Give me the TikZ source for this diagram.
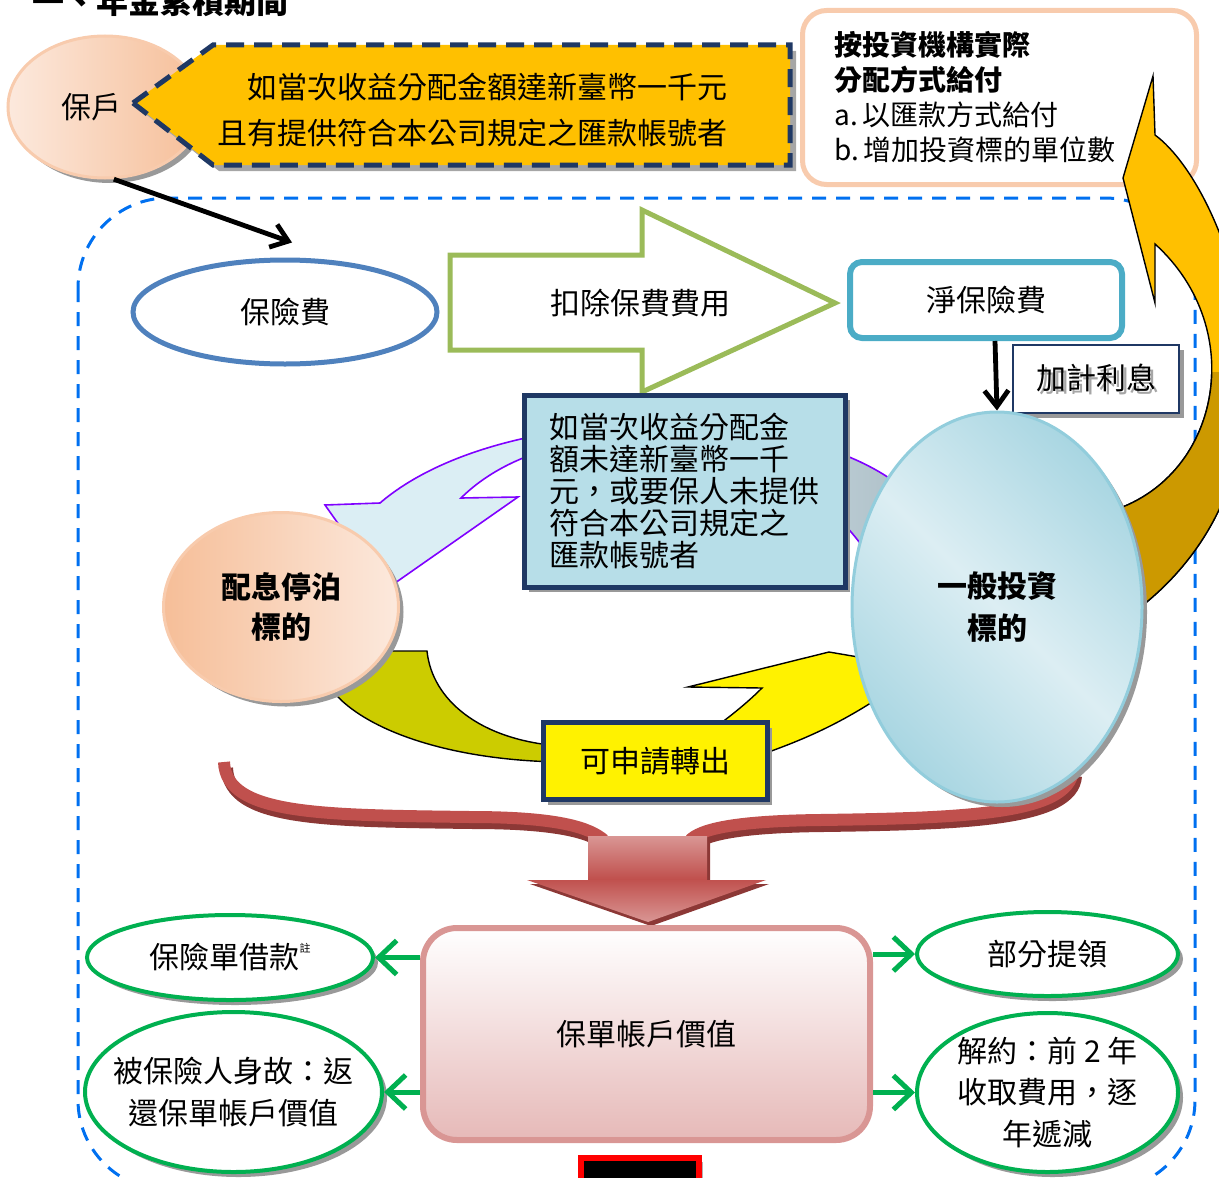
\documentclass[tikz,border=0pt]{standalone}
\usepackage{fontspec}
\setmainfont{Noto Sans CJK TC}
\usetikzlibrary{shapes.geometric,arrows.meta,shadows,positioning}

\definecolor{goldarrow}{HTML}{FFC000}
\definecolor{goldshade}{HTML}{CC9900}
\definecolor{navyline}{HTML}{1F3864}
\definecolor{frameblue}{HTML}{0070F0}
\definecolor{peachline}{HTML}{F8CBAD}
\definecolor{peachlight}{HTML}{FCE9DD}
\definecolor{peachdark}{HTML}{F6BE98}
\definecolor{premblue}{HTML}{4F81BD}
\definecolor{feegreen}{HTML}{9BBB59}
\definecolor{netcyan}{HTML}{4BACC6}
\definecolor{boxblue}{HTML}{B7DEE8}
\definecolor{invlight}{HTML}{DCEEF3}
\definecolor{invdark}{HTML}{A9D6E2}
\definecolor{invline}{HTML}{92CDDC}
\definecolor{loopfill}{HTML}{DBEEF4}
\definecolor{loopgrey}{HTML}{AFC0C8}
\definecolor{loopline}{HTML}{7F00FF}
\definecolor{oliveband}{HTML}{CCCC00}
\definecolor{bracered}{HTML}{C0504D}
\definecolor{bracedark}{HTML}{8C3836}
\definecolor{accline}{HTML}{D99694}
\definecolor{accfill}{HTML}{E6B9B8}
\definecolor{outgreen}{HTML}{00B050}

% golden return arrow on the right
\newcommand{\goldpath}{(1153,76) -- (1155,135) .. controls (1230,190) and (1330,470) .. (1130,615)
  -- (1108,512) .. controls (1220,480) and (1250,330) .. (1155,244) -- (1155,303) -- (1123,178) -- cycle}

\begin{document}
\begin{tikzpicture}[x=0.5pt, y=-0.5pt,
    every node/.style={font=\fontsize{15pt}{18pt}\selectfont},
    shadowed/.style={drop shadow={shadow xshift=2.5pt, shadow yshift=-2.5pt, fill=black!40, opacity=1}},
    bubble/.style={ellipse, draw=peachline, line width=1.5pt, shadowed},
    plainbox/.style={rectangle, draw=navyline, line width=2.5pt, shadowed},
    outcome/.style={ellipse, draw=outgreen, line width=2pt, fill=white, inner sep=0pt, align=center, shadowed},
    flow/.style={-{Straight Barb[length=8pt, width=12pt]}, line width=2.4pt, black},
    outflow/.style={-{Straight Barb[length=9pt, width=17pt]}, line width=2.5pt, outgreen}
]
\useasboundingbox (0,0) rectangle (1219,1177);

% Cadre
\draw[frameblue, line width=1.5pt, dash pattern=on 7pt off 5pt, rounded corners=45pt] (78,198) rectangle (1195,1190);

\node[anchor=base west, font=\fontsize{16pt}{16pt}\selectfont\bfseries] (title) at (25,14) {一、年金累積期間};

% Haut
\node[bubble, left color=peachlight, right color=peachdark, minimum width=97pt, minimum height=71pt] (hu) at (105,107) {保戶\kern14pt};
\draw[navyline, line width=2.5pt, dash pattern=on 9pt off 5pt, fill=goldarrow,
  drop shadow={shadow xshift=3pt, shadow yshift=-3pt, fill=black!35, opacity=1}]
  (133,103) -- (213,45) -- (790,45) -- (790,165) -- (213,165) -- cycle;
\node[anchor=east, align=right, font=\fontsize{15pt}{23pt}\selectfont] (paycond) at (735,110) {如當次收益分配金額達新臺幣一千元\\且有提供符合本公司規定之匯款帳號者};

\node[draw=peachline, line width=2.5pt, rounded corners=12pt, fill=white, anchor=north west, minimum width=197pt, minimum height=87pt, text width=165pt, inner xsep=16pt, align=left, font=\fontsize{14pt}{17.5pt}\selectfont] (payout) at (800,8) {\textbf{按投資機構實際}\\\textbf{分配方式給付}\\a.\,以匯款方式給付\\b.\,增加投資標的單位數};

\draw[line width=0.7pt, fill=goldarrow] \goldpath;
\begin{scope}
  \clip (1100,372) rectangle (1300,700);
  \draw[line width=0.7pt, fill=goldshade] \goldpath;
\end{scope}

% Prime
\node[ellipse, draw=premblue, line width=2.5pt, fill=white, minimum width=152pt, minimum height=52pt] (prem) at (285,312) {保險費};
\draw[flow] (hu.-83) -- ([shift={(7,-15)}]prem.north);

\draw[feegreen, line width=2.5pt, fill=white] (450,255) -- (642,255) -- (642,210) -- (835,303) -- (642,392) -- (642,350) -- (450,350) -- cycle;
\node (fee) at (640,303) {扣除保費費用};

\node[draw=netcyan, line width=3pt, rounded corners=6pt, fill=white, minimum width=136pt, minimum height=38pt] (net) at (986,300) {淨保險費};
\node[draw=navyline, line width=0.7pt, fill=white, minimum width=83pt, minimum height=34pt, shadowed] (interest) at (1096,379) {\rlap{\hspace{1.5pt}\raisebox{-1.5pt}{\textcolor{black!35}{加計利息}}}加計利息};

% Boucle
\draw[loopline, line width=0.8pt, left color=loopfill, right color=loopgrey, middle color=loopfill]
  (905,490) .. controls (800,400) and (500,400) .. (380,503) -- (325,505) -- (385,590) -- (518,497) -- (461,498)
  .. controls (560,400) and (800,420) .. (880,575) -- cycle;
\node[plainbox, fill=boxblue, minimum width=160.5pt, minimum height=96pt, text width=135pt, inner xsep=12pt, align=left, font=\fontsize{15pt}{16pt}\selectfont] (unpaid) at (684.5,491) {如當次收益分配金\\額未達新臺幣一千\\元，或要保人未提供\\符合本公司規定之\\匯款帳號者};

\draw[line width=0.7pt, fill=oliveband] (370,651) -- (427,651) .. controls (432,700) and (480,740) .. (560,746) -- (560,762) .. controls (440,760) and (350,725) .. (325,680) -- cycle;
\draw[line width=0.7pt, fill=yellow] (690,745) .. controls (730,718) and (750,700) .. (762,688) -- (688,687) -- (829,652) -- (905,665) -- (905,700) -- (880,697) .. controls (830,730) and (790,745) .. (740,762) -- cycle;

\node[bubble, left color=peachdark, right color=peachlight, minimum width=117.5pt, minimum height=94.5pt, align=center, font=\fontsize{15pt}{20pt}\selectfont\bfseries] (park) at (281,607) {配息停泊\\標的};
\node[plainbox, fill=yellow, minimum width=112pt, minimum height=38.5pt] (transfer) at (655,761) {可申請轉出};

% Accolade
\begin{scope}[shift={(3,6)}]
  \draw[bracedark, line width=6pt] (224,762) .. controls (226,815) and (320,815) .. (470,817) .. controls (560,817) and (590,828) .. (604,840);
  \draw[bracedark, line width=6pt] (1073,770) .. controls (1070,815) and (960,818) .. (820,820) .. controls (730,821) and (700,830) .. (690,840);
\end{scope}
\draw[bracered, line width=6pt] (224,762) .. controls (226,815) and (320,815) .. (470,817) .. controls (560,817) and (590,828) .. (604,840);
\draw[bracered, line width=6pt] (1073,770) .. controls (1070,815) and (960,818) .. (820,820) .. controls (730,821) and (700,830) .. (690,840);
\path[top color=accline, bottom color=accline, middle color=bracered,
  drop shadow={shadow xshift=1.5pt, shadow yshift=-2pt, fill=bracedark, opacity=1}]
  (588,836) -- (707,836) -- (707,880) -- (766,880) -- (648,922) -- (527,880) -- (588,880) -- cycle;

\node[ellipse, draw=invline, line width=1.5pt, top color=invdark, bottom color=invdark, middle color=invlight, shading angle=-45, minimum width=145pt, minimum height=195pt, align=center, font=\fontsize{15pt}{21pt}\selectfont\bfseries, shadowed] (inv) at (997,607) {一般投資\\標的};
\draw[flow] ([xshift=4.5pt]net.south) -- (inv.north);

% Bas
\node[draw=accline, line width=3pt, rounded corners=17pt, top color=white, bottom color=accfill, minimum width=223.5pt, minimum height=106pt] (account) at (646.5,1034) {保單帳戶價值};

\node[outcome, minimum width=143pt, minimum height=42.5pt] (loan) at (230,957.5) {保險單借款\raisebox{8pt}{\fontsize{5.5pt}{6pt}\selectfont 註}};
\node[outcome, minimum width=148.5pt, minimum height=80pt, inner xsep=-8pt, font=\fontsize{15pt}{21pt}\selectfont] (death) at (233.5,1092) {被保險人身故：返\\還保單帳戶價值};
\node[outcome, minimum width=130.5pt, minimum height=42pt] (partial) at (1047.5,954) {部分提領};
\node[outcome, minimum width=130.5pt, minimum height=79.5pt, font=\fontsize{15pt}{20.75pt}\selectfont] (surrender) at (1047.5,1092.5) {解約：前 2 年\\收取費用，逐\\年遞減};

\draw[outflow] (loan.east -| account.west) -- (loan.east);
\draw[outflow] (death.east -| account.west) -- (death.east);
\draw[outflow] (partial.west -| account.east) -- (partial.west);
\draw[outflow] (surrender.west -| account.east) -- (surrender.west);

\draw[red, line width=3pt, fill=black, drop shadow={shadow xshift=2pt, shadow yshift=-2pt, fill=black!30, opacity=1}] (581,1158) rectangle (699,1200);

\end{tikzpicture}
\end{document}
